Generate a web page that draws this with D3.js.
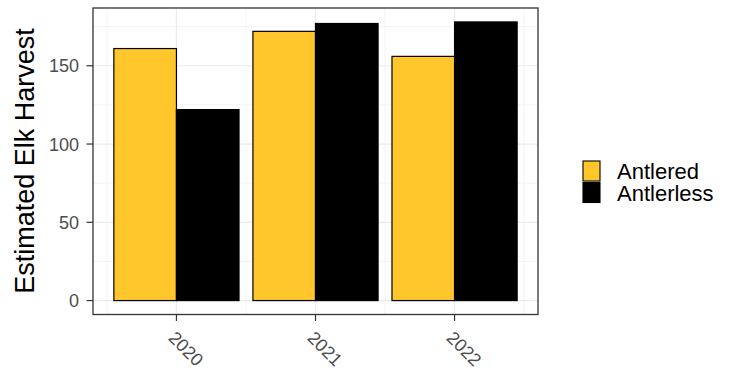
<!DOCTYPE html>
<html>
<head>
<meta charset="utf-8">
<script src="https://cdn.jsdelivr.net/npm/d3@7"></script>
<style>
  html, body { margin: 0; padding: 0; background: #fff; }
  svg { display: block; }
  text { font-family: "Liberation Sans", Arial, sans-serif; }
</style>
</head>
<body>
<svg id="chart" width="733" height="372"></svg>
<script>
const years = ["2020", "2021", "2022"];
const seriesNames = ["Antlered", "Antlerless"];
const antlered = [161, 172, 156];
const antlerless = [122, 177, 178];
const yTicks = [0, 50, 100, 150];
const yMinorTicks = [25, 75, 125, 175];
const colors = ["#FFC72C", "#000000"];

const svg = d3.select("#chart");
const L = 93, R = 538, T = 8, B = 314.5;

const maxV = d3.max([...antlered, ...antlerless]);
const ex = maxV * 0.05;
const y = d3.scaleLinear().domain([-ex, maxV + ex]).range([B, T]);
const x = d3.scaleBand().domain(years).range([L, R]).paddingInner(0).paddingOuter(0.1);
const step = x.step();
const series = seriesNames.map((n, i) => ({ name: n, values: i === 0 ? antlered : antlerless, color: colors[i], idx: i }));

// panel background
svg.append("rect").attr("x", L).attr("y", T).attr("width", R - L).attr("height", B - T).attr("fill", "#fff");

// minor grid
const g = svg.append("g");
g.selectAll(".ymin").data(yMinorTicks).join("line")
  .attr("x1", L).attr("x2", R).attr("y1", d => y(d)).attr("y2", d => y(d))
  .attr("stroke", "#ebebeb").attr("stroke-width", 0.6);
const xMinor = years.map(d => x(d)).concat([x(years[years.length - 1]) + step]);
g.selectAll(".xmin").data(xMinor).join("line")
  .attr("x1", d => d).attr("x2", d => d).attr("y1", T).attr("y2", B)
  .attr("stroke", "#ebebeb").attr("stroke-width", 0.6);
// major grid
g.selectAll(".ymaj").data(yTicks).join("line")
  .attr("x1", L).attr("x2", R).attr("y1", d => y(d)).attr("y2", d => y(d))
  .attr("stroke", "#ebebeb").attr("stroke-width", 1.2);
g.selectAll(".xmaj").data(years).join("line")
  .attr("x1", d => x(d) + step / 2).attr("x2", d => x(d) + step / 2).attr("y1", T).attr("y2", B)
  .attr("stroke", "#ebebeb").attr("stroke-width", 1.2);

// bars
const bw = step * 0.45;
series.forEach(s => {
  svg.append("g").selectAll("rect").data(years).join("rect")
    .attr("x", (d) => x(d) + step * 0.05 + s.idx * bw)
    .attr("y", (d, i) => y(s.values[i]))
    .attr("width", bw)
    .attr("height", (d, i) => y(0) - y(s.values[i]))
    .attr("fill", s.color)
    .attr("stroke", "#000")
    .attr("stroke-width", 1.2);
});

// panel border
svg.append("rect").attr("x", L).attr("y", T).attr("width", R - L).attr("height", B - T)
  .attr("fill", "none").attr("stroke", "#333333").attr("stroke-width", 1.3);

// y axis ticks and labels
const ya = svg.append("g");
ya.selectAll("line").data(yTicks).join("line")
  .attr("x1", L - 6.5).attr("x2", L).attr("y1", d => y(d)).attr("y2", d => y(d))
  .attr("stroke", "#333333").attr("stroke-width", 1.2);
ya.selectAll("text").data(yTicks).join("text")
  .attr("x", 79).attr("y", d => y(d)).attr("dy", "0.36em")
  .attr("text-anchor", "end").attr("font-size", 18).attr("fill", "#4d4d4d")
  .text(d => d);

// x axis ticks and labels
const xa = svg.append("g");
xa.selectAll("line").data(years).join("line")
  .attr("x1", d => x(d) + step / 2).attr("x2", d => x(d) + step / 2)
  .attr("y1", B).attr("y2", B + 6.5)
  .attr("stroke", "#333333").attr("stroke-width", 1.2);
xa.selectAll("text").data(years).join("text")
  .attr("transform", d => `translate(${x(d) + step / 2 - 9},339) rotate(45)`)
  .attr("text-anchor", "start").attr("font-size", 18).attr("fill", "#4d4d4d")
  .text(d => d);

// y title
svg.append("text")
  .attr("transform", `translate(34,161) rotate(-90)`)
  .attr("text-anchor", "middle").attr("font-size", 27).attr("fill", "#000")
  .text("Estimated Elk Harvest");

// legend
const lg = svg.append("g");
const keyX = 583, keyW = 17, keyH = 21.5, keyY0 = 160.5;
series.forEach((s, i) => {
  lg.append("rect").attr("x", keyX).attr("y", keyY0 + i * keyH + 0.5)
    .attr("width", keyW).attr("height", keyH - 1.5)
    .attr("fill", s.color).attr("stroke", "#000").attr("stroke-width", 1.1);
  lg.append("text").attr("x", 617).attr("y", keyY0 + i * keyH + keyH / 2).attr("dy", "0.36em")
    .attr("font-size", 22).attr("fill", "#000").text(s.name);
});
</script>
</body>
</html>
